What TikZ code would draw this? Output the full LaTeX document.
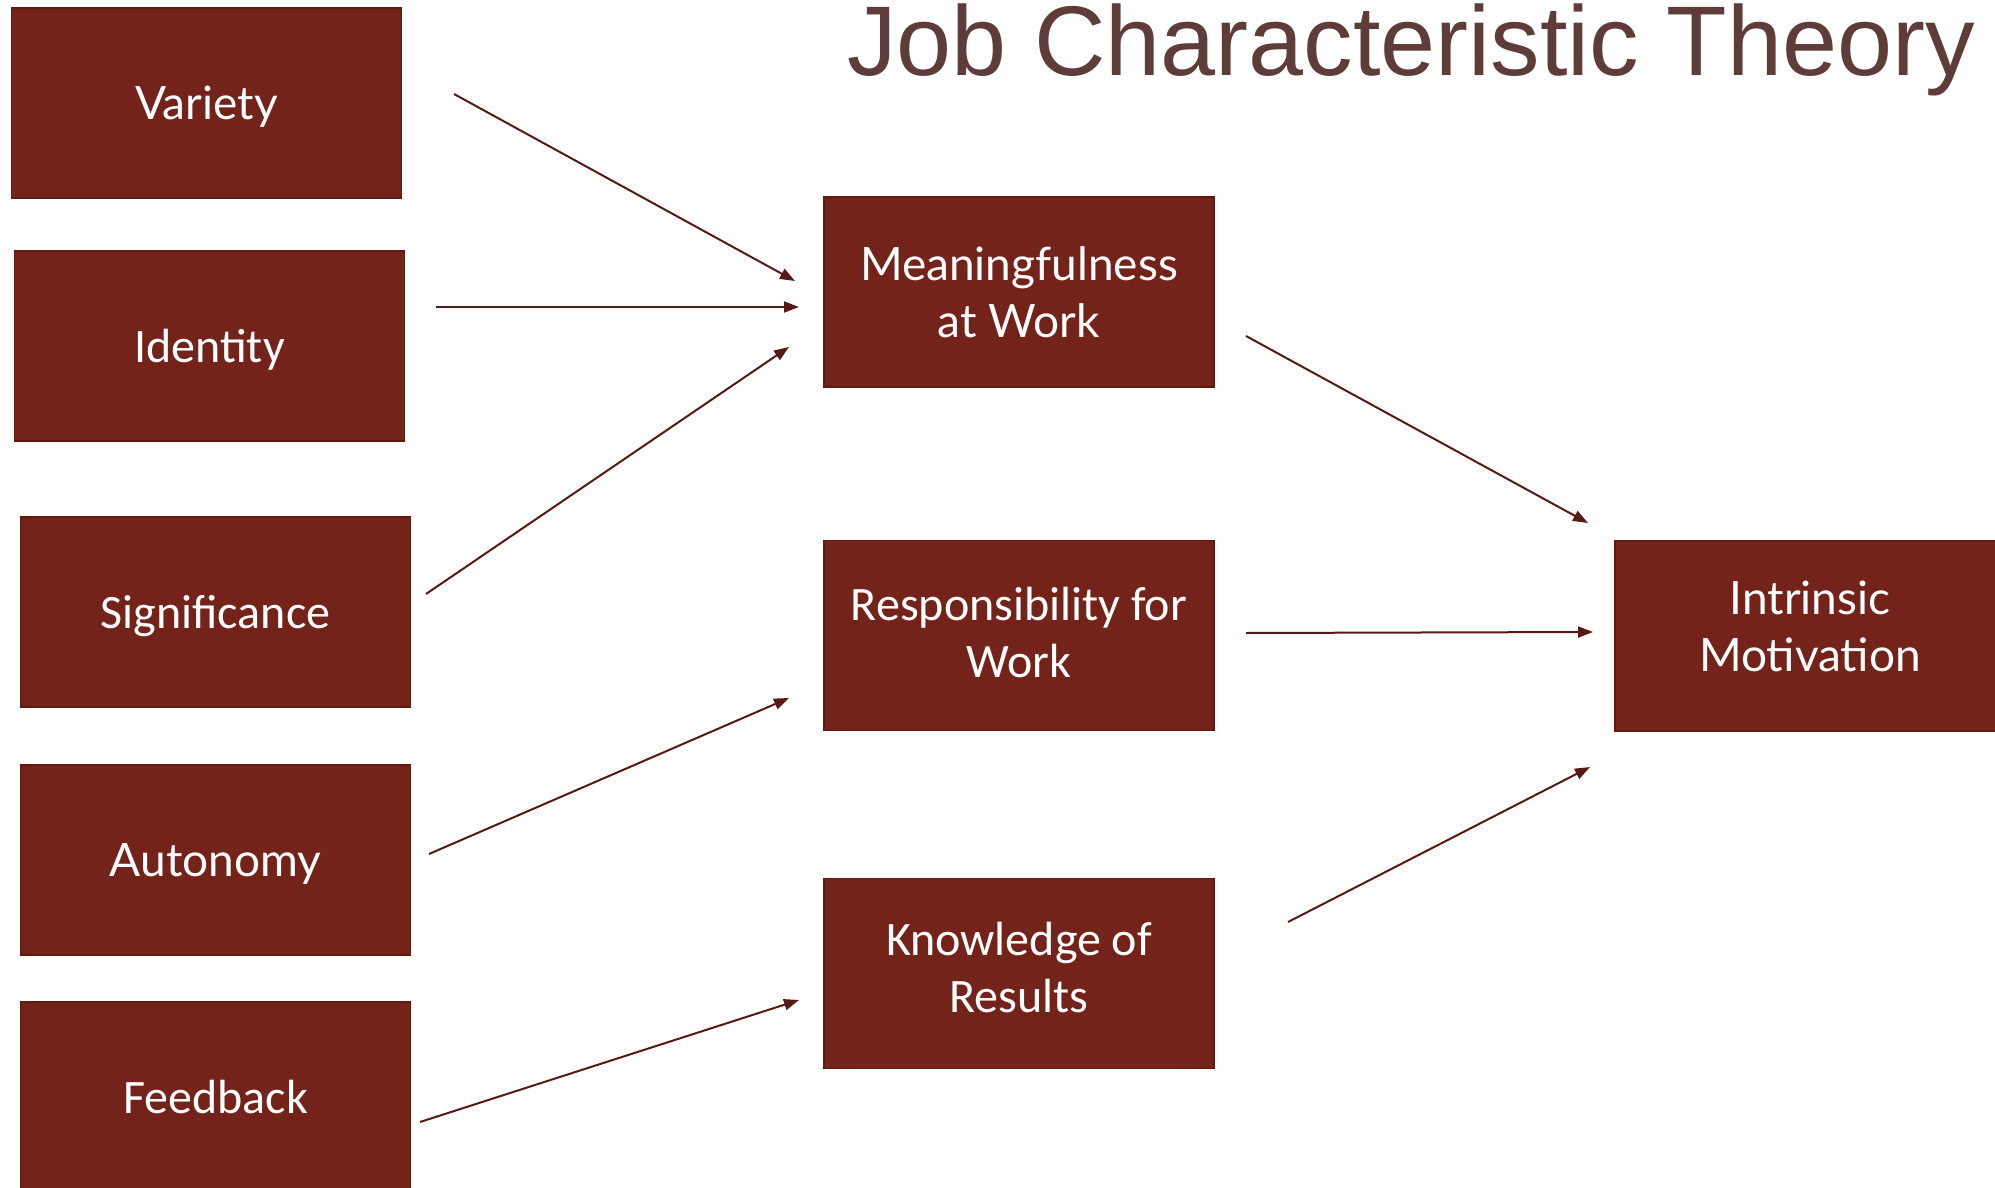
\documentclass[tikz,border=0pt]{standalone}
\usepackage{fontspec}
\setmainfont{Lato}
\newfontfamily\calfont{Carlito}
\newfontfamily\headfont{Liberation Sans}
\usetikzlibrary{arrows.meta}

\definecolor{boxred}{HTML}{74231A}
\definecolor{boxedge}{HTML}{5C1A10}
\definecolor{linkbrown}{HTML}{561A14}
\definecolor{headbrown}{HTML}{5E3C39}

\begin{document}
\begin{tikzpicture}[x=1pt, y=-1pt,
  box/.style={draw=boxedge, line width=1.5pt, fill=boxred, text=white,
    minimum width=390pt, minimum height=190pt, inner sep=0pt, align=center,
    font=\fontsize{46}{57}\selectfont},
  calbox/.style={box, font=\calfont\fontsize{48}{57}\selectfont},
  % one line, capitals centred in the box
  oneline/.style={text height=33pt, text depth=0pt},
  link/.style={draw=linkbrown, line width=2pt,
    -{Triangle[length=15pt, width=11pt]}}]
  \useasboundingbox[fill=white] (0,0) rectangle (1995,1188);

  % heading
  \node[anchor=base west, inner sep=0pt, text=headbrown,
    font=\headfont\fontsize{99}{110}\selectfont] (head) at (847,76)
    {Job Characteristic Theory};

  % core job characteristics
  \node[box, oneline]    (var)  at (206.5,103)  {Variety};
  \node[calbox, oneline] (iden) at (209.5,346)  {Identity};
  \node[calbox, oneline] (sig)  at (215.5,612)  {Significance};
  \node[box, oneline]    (aut)  at (215.5,860)  {Autonomy};
  \node[calbox, oneline] (feed) at (215.5,1097) {Feedback};

  % psychological states
  \node[box]    (mean) at (1019,292)   {Meaningfulness\\at Work};
  \node[calbox, text depth=6pt]  (resp) at (1019,635.5) {Responsibility for\\Work};
  \node[calbox, text depth=12pt] (know) at (1019,973.5) {Knowledge of\\Results};

  % outcome
  \node[box, text depth=20pt] (motiv) at (1810,636) {Intrinsic\\Motivation};

  % arrow ends
  \coordinate (a1) at (454,94);    \coordinate (b1) at (795,281);
  \coordinate (a2) at (436,307);   \coordinate (b2) at (799,307);
  \coordinate (a3) at (426,594);   \coordinate (b3) at (789,347);
  \coordinate (a4) at (429,854);   \coordinate (b4) at (789,698);
  \coordinate (a5) at (420,1122);  \coordinate (b5) at (799,1000);
  \coordinate (a6) at (1246,336);  \coordinate (b6) at (1588,523);
  \coordinate (a7) at (1246,633);  \coordinate (b7) at (1593,632);
  \coordinate (a8) at (1288,922);  \coordinate (b8) at (1590,767);

  \foreach \i in {1,...,8} \draw[link] (a\i) -- (b\i);
\end{tikzpicture}
\end{document}
